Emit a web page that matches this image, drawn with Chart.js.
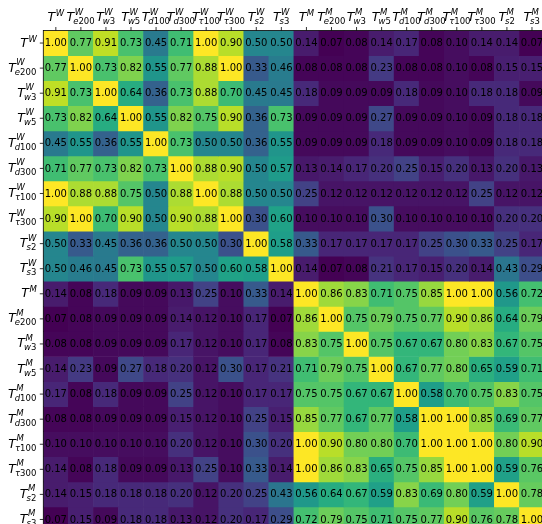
<!DOCTYPE html>
<html>
<head>
<meta charset="utf-8">
<script src="https://cdn.jsdelivr.net/npm/chart.js@4"></script>
<style>
  html, body { margin: 0; padding: 0; background: #fff; overflow: hidden; }
  #wrap { width: 560px; height: 560px; }
</style>
</head>
<body>
<div id="wrap"><canvas id="heat" width="560" height="560"></canvas></div>
<script>
// tick labels: T with a superscript group and a subscript variant
const groups = ['W', 'M'];
const variants = ['', 'e200', 'w3', 'w5', 'd100', 'd300', 'τ100', 'τ300', 's2', 's3'];

// correlation values, one row per label (row order = column order)
const corr = [
  [1.00, 0.77, 0.91, 0.73, 0.45, 0.71, 1.00, 0.90, 0.50, 0.50, 0.14, 0.07, 0.08, 0.14, 0.17, 0.08, 0.10, 0.14, 0.14, 0.07],
  [0.77, 1.00, 0.73, 0.82, 0.55, 0.77, 0.88, 1.00, 0.33, 0.46, 0.08, 0.08, 0.08, 0.23, 0.08, 0.08, 0.10, 0.08, 0.15, 0.15],
  [0.91, 0.73, 1.00, 0.64, 0.36, 0.73, 0.88, 0.70, 0.45, 0.45, 0.18, 0.09, 0.09, 0.09, 0.18, 0.09, 0.10, 0.18, 0.18, 0.09],
  [0.73, 0.82, 0.64, 1.00, 0.55, 0.82, 0.75, 0.90, 0.36, 0.73, 0.09, 0.09, 0.09, 0.27, 0.09, 0.09, 0.10, 0.09, 0.18, 0.18],
  [0.45, 0.55, 0.36, 0.55, 1.00, 0.73, 0.50, 0.50, 0.36, 0.55, 0.09, 0.09, 0.09, 0.18, 0.09, 0.09, 0.10, 0.09, 0.18, 0.18],
  [0.71, 0.77, 0.73, 0.82, 0.73, 1.00, 0.88, 0.90, 0.50, 0.57, 0.13, 0.14, 0.17, 0.20, 0.25, 0.15, 0.20, 0.13, 0.20, 0.13],
  [1.00, 0.88, 0.88, 0.75, 0.50, 0.88, 1.00, 0.88, 0.50, 0.50, 0.25, 0.12, 0.12, 0.12, 0.12, 0.12, 0.12, 0.25, 0.12, 0.12],
  [0.90, 1.00, 0.70, 0.90, 0.50, 0.90, 0.88, 1.00, 0.30, 0.60, 0.10, 0.10, 0.10, 0.30, 0.10, 0.10, 0.10, 0.10, 0.20, 0.20],
  [0.50, 0.33, 0.45, 0.36, 0.36, 0.50, 0.50, 0.30, 1.00, 0.58, 0.33, 0.17, 0.17, 0.17, 0.17, 0.25, 0.30, 0.33, 0.25, 0.17],
  [0.50, 0.46, 0.45, 0.73, 0.55, 0.57, 0.50, 0.60, 0.58, 1.00, 0.14, 0.07, 0.08, 0.21, 0.17, 0.15, 0.20, 0.14, 0.43, 0.29],
  [0.14, 0.08, 0.18, 0.09, 0.09, 0.13, 0.25, 0.10, 0.33, 0.14, 1.00, 0.86, 0.83, 0.71, 0.75, 0.85, 1.00, 1.00, 0.56, 0.72],
  [0.07, 0.08, 0.09, 0.09, 0.09, 0.14, 0.12, 0.10, 0.17, 0.07, 0.86, 1.00, 0.75, 0.79, 0.75, 0.77, 0.90, 0.86, 0.64, 0.79],
  [0.08, 0.08, 0.09, 0.09, 0.09, 0.17, 0.12, 0.10, 0.17, 0.08, 0.83, 0.75, 1.00, 0.75, 0.67, 0.67, 0.80, 0.83, 0.67, 0.75],
  [0.14, 0.23, 0.09, 0.27, 0.18, 0.20, 0.12, 0.30, 0.17, 0.21, 0.71, 0.79, 0.75, 1.00, 0.67, 0.77, 0.80, 0.65, 0.59, 0.71],
  [0.17, 0.08, 0.18, 0.09, 0.09, 0.25, 0.12, 0.10, 0.17, 0.17, 0.75, 0.75, 0.67, 0.67, 1.00, 0.58, 0.70, 0.75, 0.83, 0.75],
  [0.08, 0.08, 0.09, 0.09, 0.09, 0.15, 0.12, 0.10, 0.25, 0.15, 0.85, 0.77, 0.67, 0.77, 0.58, 1.00, 1.00, 0.85, 0.69, 0.77],
  [0.10, 0.10, 0.10, 0.10, 0.10, 0.20, 0.12, 0.10, 0.30, 0.20, 1.00, 0.90, 0.80, 0.80, 0.70, 1.00, 1.00, 1.00, 0.80, 0.90],
  [0.14, 0.08, 0.18, 0.09, 0.09, 0.13, 0.25, 0.10, 0.33, 0.14, 1.00, 0.86, 0.83, 0.65, 0.75, 0.85, 1.00, 1.00, 0.59, 0.76],
  [0.14, 0.15, 0.18, 0.18, 0.18, 0.20, 0.12, 0.20, 0.25, 0.43, 0.56, 0.64, 0.67, 0.59, 0.83, 0.69, 0.80, 0.59, 1.00, 0.78],
  [0.07, 0.15, 0.09, 0.18, 0.18, 0.13, 0.12, 0.20, 0.17, 0.29, 0.72, 0.79, 0.75, 0.71, 0.75, 0.77, 0.90, 0.76, 0.78, 1.00]
];

const labels = groups.flatMap(g => variants.map(v => ({ sup: g, sub: v })));
const n = labels.length;

// viridis, sampled every 0.05
const viridis = ['#440154', '#471365', '#482475', '#46337f', '#414487', '#3b528b', '#355f8d', '#2f6c8e',
  '#2a788e', '#26828e', '#21918c', '#1f9e89', '#22a884', '#35b779', '#44bf70', '#5ec962',
  '#7ad151', '#9fda3a', '#bddf26', '#dfe318', '#fde725'];
const hexToRgb = h => [1, 3, 5].map(i => parseInt(h.substr(i, 2), 16));
const vmin = Math.min(...corr.flat());
const vmax = Math.max(...corr.flat());
function colorFor(v) {
  const t = Math.min(1, Math.max(0, (v - vmin) / (vmax - vmin))) * (viridis.length - 1);
  const i = Math.min(viridis.length - 2, Math.floor(t));
  const f = t - i;
  const a = hexToRgb(viridis[i]), b = hexToRgb(viridis[i + 1]);
  const c = a.map((x, k) => Math.round(x + (b[k] - x) * f));
  return `rgb(${c[0]},${c[1]},${c[2]})`;
}

const FONT = "'DejaVu Sans'";
const BASE = 12.5, SCRIPT = 8.5;

// T^{sup}_{sub} drawn like mathtext: letters italic, digits upright
function drawLabel(ctx, x, yBase, lab, align) {
  ctx.font = `italic ${BASE}px ${FONT}`;
  const tw = ctx.measureText('T').width;
  ctx.font = `italic ${SCRIPT}px ${FONT}`;
  const sw = ctx.measureText(lab.sup).width;
  const parts = [...lab.sub].map(ch => ({ ch, font: /[0-9]/.test(ch) ? `${SCRIPT}px ${FONT}` : `italic ${SCRIPT}px ${FONT}` }));
  let subw = 0;
  parts.forEach(p => { ctx.font = p.font; p.w = ctx.measureText(p.ch).width; subw += p.w; });
  const total = tw + Math.max(sw + 0.5, subw - 0.5);
  const x0 = align === 'center' ? x - total / 2 : x - total;
  ctx.textAlign = 'left';
  ctx.textBaseline = 'alphabetic';
  ctx.fillStyle = '#000';
  ctx.font = `italic ${BASE}px ${FONT}`;
  ctx.fillText('T', x0, yBase);
  ctx.font = `italic ${SCRIPT}px ${FONT}`;
  ctx.fillText(lab.sup, x0 + tw + 0.5, yBase - (lab.sub ? 6.5 : 5));
  let sx = x0 + tw - 1;
  parts.forEach(p => { ctx.font = p.font; ctx.fillText(p.ch, sx, yBase + 3); sx += p.w; });
}

const heatDecor = {
  id: 'heatDecor',
  afterDatasetsDraw(chart) {
    const ctx = chart.ctx;
    const area = chart.chartArea;
    const xs = chart.scales.x, ys = chart.scales.y;
    ctx.save();
    // cell values
    ctx.font = `10px ${FONT}`;
    ctx.textAlign = 'center';
    ctx.textBaseline = 'middle';
    ctx.fillStyle = '#000';
    chart.data.datasets.forEach((ds, i) => {
      chart.getDatasetMeta(i).data.forEach((el, j) => {
        ctx.fillText(corr[i][j].toFixed(2), el.x, (el.y + el.base) / 2 + 0.5);
      });
    });
    // frame
    ctx.strokeStyle = '#000';
    ctx.lineWidth = 0.8;
    ctx.strokeRect(area.left, area.top, area.right - area.left, area.bottom - area.top);
    // ticks and labels
    labels.forEach((lab, k) => {
      const cx = xs.getPixelForValue(k);
      ctx.beginPath();
      ctx.moveTo(cx, area.top);
      ctx.lineTo(cx, area.top - 3.5);
      ctx.stroke();
      drawLabel(ctx, cx, area.top - 9.5, lab, 'center');

      const cy = ys.getPixelForValue(k + 0.5);
      ctx.beginPath();
      ctx.moveTo(area.left, cy);
      ctx.lineTo(area.left - 3.5, cy);
      ctx.stroke();
      drawLabel(ctx, area.left - 6.5, cy + 3.5, lab, 'right');
    });
    ctx.restore();
  }
};

new Chart(document.getElementById('heat'), {
  type: 'bar',
  data: {
    labels: labels.map(l => 'T^' + l.sup + (l.sub ? '_' + l.sub : '')),
    datasets: corr.map((row, i) => ({
      data: row.map(() => [i, i + 1]),
      backgroundColor: row.map(v => colorFor(v)),
      borderWidth: 0,
      grouped: false,
      barPercentage: 1,
      categoryPercentage: 1
    }))
  },
  options: {
    responsive: false,
    animation: false,
    layout: { padding: { left: 43.3, top: 30.5, right: 15.5, bottom: 28 } },
    scales: {
      x: { type: 'category', display: false, offset: true },
      y: { type: 'linear', display: false, min: 0, max: n, reverse: true }
    },
    plugins: { legend: { display: false }, tooltip: { enabled: false } }
  },
  plugins: [heatDecor]
});
</script>
</body>
</html>
